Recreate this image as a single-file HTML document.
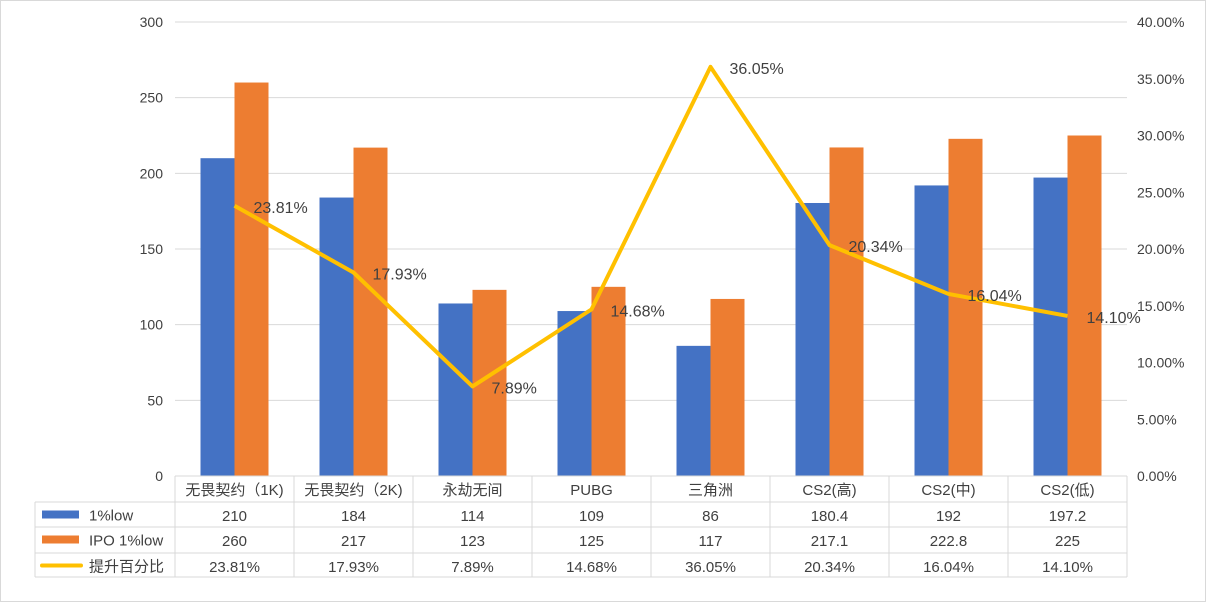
<!DOCTYPE html>
<html><head><meta charset="utf-8"><style>
body{margin:0;background:#fff;}
svg text{font-family:"Liberation Sans","Noto Sans CJK SC",sans-serif;fill:#404040;}
</style></head><body>
<svg id="chart" width="1207" height="603">
<rect x="0.5" y="0.5" width="1205" height="601" fill="#fff" stroke="#d9d9d9"/>
<g id="grid"></g><g id="bars"></g><g id="line"></g><g id="axes"></g><g id="table"></g>
</svg>
<script>
const categories=["无畏契约（1K)","无畏契约（2K)","永劫无间","PUBG","三角洲","CS2(高)","CS2(中)","CS2(低)"];
const lowValues=[210,184,114,109,86,180.4,192,197.2];
const ipoValues=[260,217,123,125,117,217.1,222.8,225];
const pctValues=[23.81,17.93,7.89,14.68,36.05,20.34,16.04,14.10];
const leftTicks=[0,50,100,150,200,250,300];
const rightTicks=[0,5,10,15,20,25,30,35,40];
const NS="http://www.w3.org/2000/svg";
const X0=175,X1=1127,Y0=476,Y1=22,cw=(X1-X0)/categories.length;
const yL=v=>Y0-(v/300)*(Y0-Y1);
const yR=v=>Y0-(v/40)*(Y0-Y1);
const cx=i=>X0+cw*(i+0.5);
function mk(tag,attrs,parent,text){const e=document.createElementNS(NS,tag);for(const k in attrs)e.setAttribute(k,attrs[k]);if(text!==undefined)e.textContent=text;document.getElementById(parent).appendChild(e);return e;}
leftTicks.forEach(t=>{
  const g=mk('line',{x1:X0,x2:X1,y1:yL(t),y2:yL(t),stroke:'#d9d9d9'},'grid');
  
  
  const l=mk('text',{x:163,y:yL(t)+5,'text-anchor':'end','font-size':14},'axes',t);
  
  
});
rightTicks.forEach(t=>{
  const l=mk('text',{x:1137,y:yR(t)+5,'font-size':14},'axes',t.toFixed(2)+'%');
  
  
});
const bw=34;
categories.forEach((c,i)=>{
  const b1=mk('rect',{x:cx(i)-bw,y:yL(lowValues[i]),width:bw,height:Y0-yL(lowValues[i]),fill:'#4472c4'},'bars');
  
  
  const b2=mk('rect',{x:cx(i),y:yL(ipoValues[i]),width:bw,height:Y0-yL(ipoValues[i]),fill:'#ed7d31'},'bars');
  
  
});
const pl=mk('polyline',{points:pctValues.map((v,i)=>cx(i)+','+yR(v)).join(' '),fill:'none',stroke:'#ffc000','stroke-width':4,'stroke-linejoin':'round'},'line');


pctValues.forEach((v,i)=>{
  const l=mk('text',{x:cx(i)+19,y:yR(v)+7,'font-size':16},'line',v.toFixed(2)+'%');
  
  
});
// table
const rows=[476,502,527,553,577];
mk('line',{x1:X0,x2:X1,y1:476,y2:476,stroke:'#d9d9d9'},'table');
[502,527,553,577].forEach(y=>{const l=mk('line',{x1:35,x2:X1,y1:y,y2:y,stroke:'#d9d9d9'},'table');});
mk('line',{x1:35,x2:35,y1:502,y2:577,stroke:'#d9d9d9'},'table');
for(let i=0;i<=categories.length;i++){const x=X0+cw*i;const l=mk('line',{x1:x,x2:x,y1:476,y2:577,stroke:'#d9d9d9'},'table');}
categories.forEach((c,i)=>{
  const t=mk('text',{x:cx(i),y:495,'text-anchor':'middle','font-size':15},'table',c);
  
  
  [[lowValues[i]+''],[ipoValues[i]+''],[pctValues[i].toFixed(2)+'%']].forEach((v,r)=>{
    const d=mk('text',{x:cx(i),y:rows[r+1]+19,'text-anchor':'middle','font-size':15},'table',v[0]);
    
    
  });
});
const leg=[['1%low','#4472c4',0],['IPO 1%low','#ed7d31',0],['提升百分比','#ffc000',1]];
leg.forEach((l,r)=>{
  const y=rows[r+1]+12.5;
  const s=l[2]?mk('rect',{x:40,y:y-2,width:43,height:4,rx:2,fill:l[1]},'table'):mk('rect',{x:42,y:y-4,width:37,height:8,fill:l[1]},'table');
  
  
  const t=mk('text',{x:89,y:y+6,'font-size':15},'table',l[0]);
  
  
});
</script>
</body></html>
